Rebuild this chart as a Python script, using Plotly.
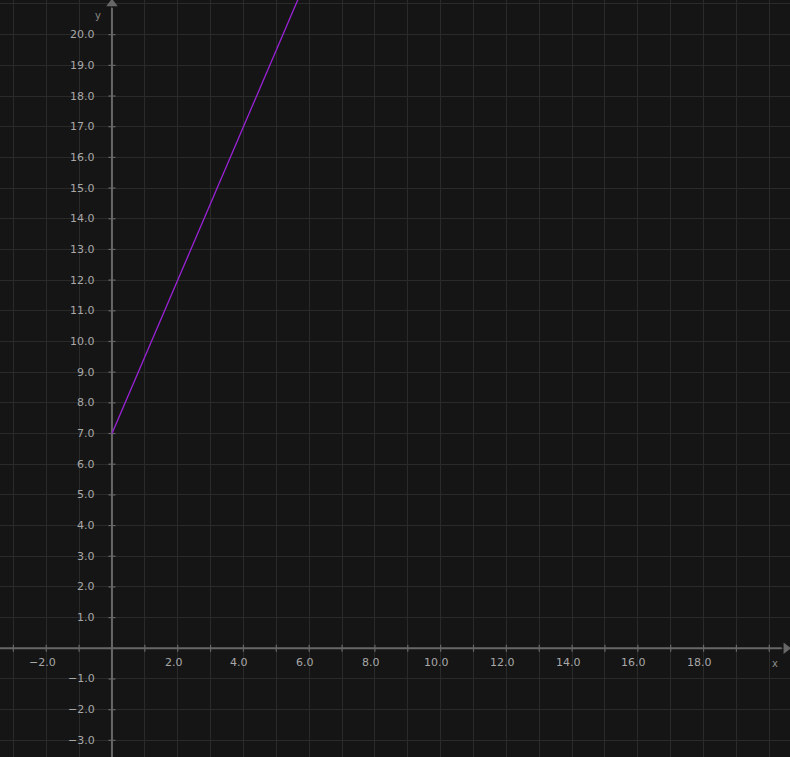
import plotly.graph_objects as go

# Data
line_x = [0, 2, 4, 6]
line_y = [7, 12, 17, 22]

x_tick_vals = [-2, 2, 4, 6, 8, 10, 12, 14, 16, 18]
y_tick_vals = [-3, -2, -1, 1, 2, 3, 4, 5, 6, 7, 8, 9, 10, 11, 12, 13, 14, 15, 16, 17, 18, 19, 20]
x_mark_vals = list(range(-3, 21))
y_mark_vals = list(range(-3, 21))

X_RANGE = [-3.407, 20.63]
Y_RANGE = [-3.543, 21.13]

BG = "#151515"
GRID = "#2a2a2a"
AXIS = "#676767"
LABEL = "#a8a8a8"
FONT = "DejaVu Sans"


def fmt(v):
    return f"{v:.1f}".replace("-", "\u2212")


fig = go.Figure()

# axes lines
fig.add_trace(go.Scatter(x=[X_RANGE[0], X_RANGE[1] - 0.25], y=[0, 0], mode="lines",
                         line=dict(color=AXIS, width=2), hoverinfo="skip", showlegend=False))
fig.add_trace(go.Scatter(x=[0, 0], y=[Y_RANGE[0], Y_RANGE[1] - 0.25], mode="lines",
                         line=dict(color=AXIS, width=2), hoverinfo="skip", showlegend=False))

# tick marks
fig.add_trace(go.Scatter(x=x_mark_vals, y=[0] * len(x_mark_vals), mode="markers",
                         marker=dict(symbol="line-ns", size=5, line=dict(color=AXIS, width=1.2)),
                         hoverinfo="skip", showlegend=False))
fig.add_trace(go.Scatter(x=[0] * len(y_mark_vals), y=y_mark_vals, mode="markers",
                         marker=dict(symbol="line-ew", size=5, line=dict(color=AXIS, width=1.2)),
                         hoverinfo="skip", showlegend=False))

# arrow heads
fig.add_trace(go.Scatter(x=[X_RANGE[1] - 0.12], y=[0], mode="markers",
                         marker=dict(symbol="triangle-right", size=10, color=AXIS),
                         hoverinfo="skip", showlegend=False))
fig.add_trace(go.Scatter(x=[0], y=[Y_RANGE[1] - 0.12], mode="markers",
                         marker=dict(symbol="triangle-up", size=10, color=AXIS),
                         hoverinfo="skip", showlegend=False))

# the line
fig.add_trace(go.Scatter(x=line_x, y=line_y, mode="lines",
                         line=dict(color="#9b22d8", width=1.3), showlegend=False))

annotations = []
for v in x_tick_vals:
    annotations.append(dict(x=v, y=0, text=fmt(v), showarrow=False, xanchor="center",
                            yanchor="top", yshift=-6, xshift=-4,
                            font=dict(family=FONT, size=11, color=LABEL)))
for v in y_tick_vals:
    annotations.append(dict(x=0, y=v, text=fmt(v), showarrow=False, xanchor="right",
                            yanchor="middle", xshift=-15,
                            font=dict(family=FONT, size=11, color=LABEL)))
annotations.append(dict(x=-0.43, y=20.61, text="y", showarrow=False, xanchor="center",
                        yanchor="middle", font=dict(family=FONT, size=10, color="#8a8a8a")))
annotations.append(dict(x=20.17, y=-0.48, text="x", showarrow=False, xanchor="center",
                        yanchor="middle", font=dict(family=FONT, size=10, color="#8a8a8a")))

fig.update_layout(
    width=790, height=757,
    margin=dict(l=0, r=0, t=0, b=0),
    paper_bgcolor=BG, plot_bgcolor=BG,
    annotations=annotations,
    xaxis=dict(range=X_RANGE, showgrid=True, gridcolor=GRID, gridwidth=1, dtick=1, tick0=0,
               showticklabels=False, zeroline=False, showline=False, ticks="", fixedrange=True),
    yaxis=dict(range=Y_RANGE, showgrid=True, gridcolor=GRID, gridwidth=1, dtick=1, tick0=0,
               showticklabels=False, zeroline=False, showline=False, ticks="", fixedrange=True),
)

fig.write_html("out.html")
